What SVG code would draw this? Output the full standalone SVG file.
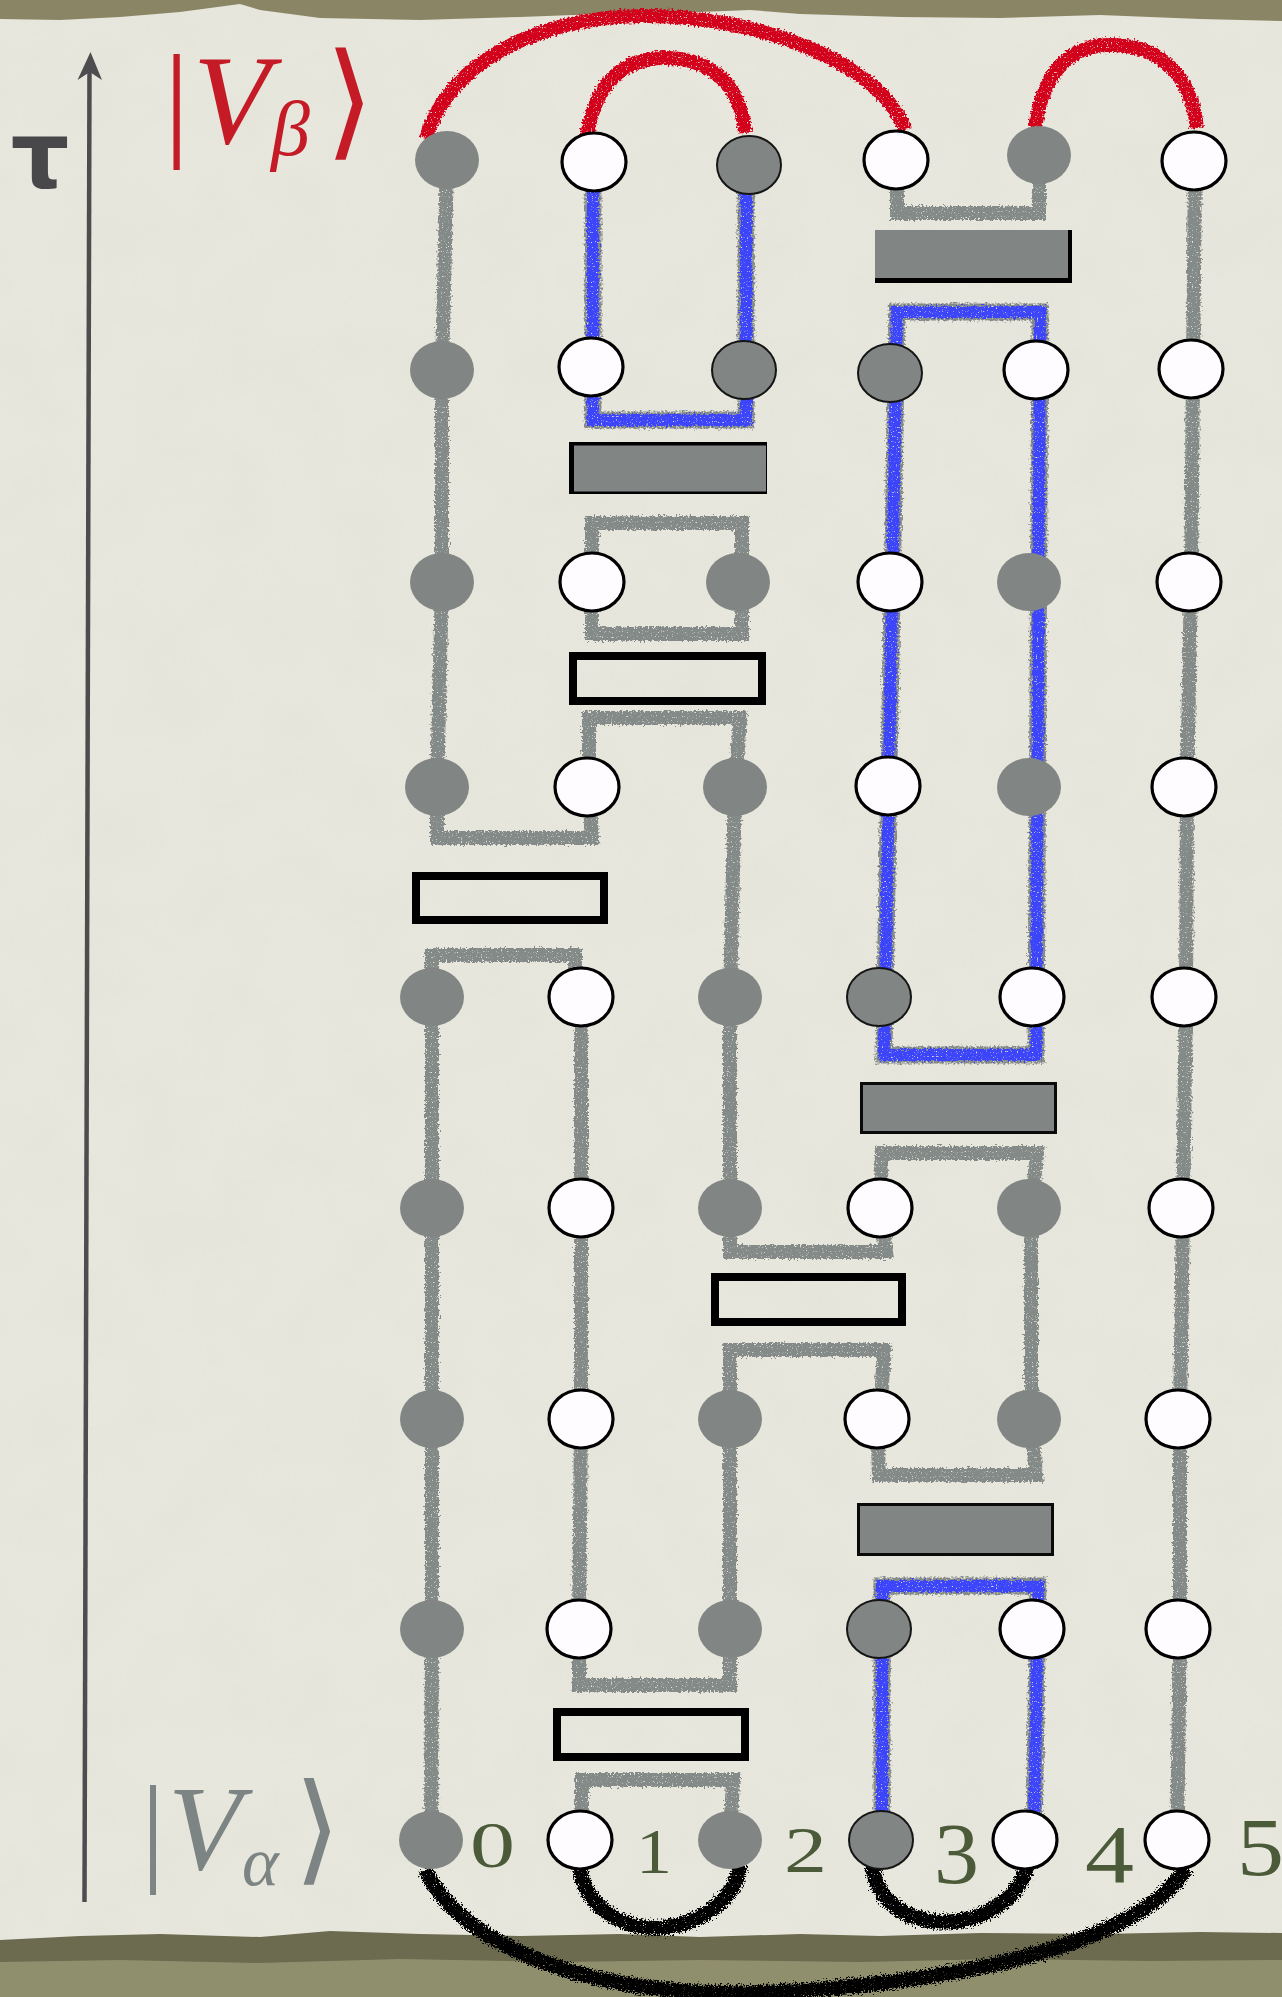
<svg xmlns="http://www.w3.org/2000/svg" width="1282" height="1997" viewBox="0 0 1282 1997">
<style>
.wire{fill:none;stroke:#838a87;stroke-width:14;stroke-linejoin:miter;stroke-linecap:butt}
.bunder{fill:none;stroke:#858b88;stroke-width:17;stroke-linejoin:miter}
.blue{fill:none;stroke:#3d45fb;stroke-width:12;stroke-linejoin:miter}
.red{fill:none;stroke:#d3061c;stroke-width:14;stroke-linecap:butt}
.blk{fill:none;stroke:#050505;stroke-width:15;stroke-linecap:butt}
.g{fill:#818684}
.gs{fill:#818684;stroke:#151515;stroke-width:2}
.w{fill:#fffcff;stroke:#000;stroke-width:3.2}
.gate{fill:#818684;stroke:#0a0a0a;stroke-width:3}
.open{fill:none;stroke:#000;stroke-width:8}
.serif{font-family:"Liberation Serif","Times New Roman",serif}
.dig{font-family:"Liberation Serif",serif;fill:#4b5a38}
</style>
<defs>
<filter id="pencil" filterUnits="userSpaceOnUse" x="0" y="0" width="1282" height="1997">
<feTurbulence type="fractalNoise" baseFrequency="0.5" numOctaves="2" seed="3" result="n"/>
<feDisplacementMap in="SourceGraphic" in2="n" scale="7" xChannelSelector="R" yChannelSelector="G" result="d"/>
<feTurbulence type="fractalNoise" baseFrequency="0.8" numOctaves="1" seed="11" result="n2"/>
<feColorMatrix in="n2" type="matrix" values="0 0 0 0 0  0 0 0 0 0  0 0 0 0 0  7 0 0 0 -1.6" result="m"/>
<feComposite in="d" in2="m" operator="in"/>
</filter>
<filter id="scribble" filterUnits="userSpaceOnUse" x="0" y="0" width="1282" height="1997">
<feTurbulence type="fractalNoise" baseFrequency="0.6" numOctaves="2" seed="9" result="n"/>
<feDisplacementMap in="SourceGraphic" in2="n" scale="11" xChannelSelector="R" yChannelSelector="G" result="d"/>
<feTurbulence type="fractalNoise" baseFrequency="0.9" numOctaves="1" seed="4" result="n2"/>
<feColorMatrix in="n2" type="matrix" values="0 0 0 0 0  0 0 0 0 0  0 0 0 0 0  8 0 0 0 -1.7" result="m"/>
<feComposite in="d" in2="m" operator="in"/>
</filter>
<filter id="paper" filterUnits="userSpaceOnUse" x="0" y="0" width="1282" height="1997">
<feTurbulence type="fractalNoise" baseFrequency="0.015" numOctaves="4" seed="5"/>
<feColorMatrix type="matrix" values="0 0 0 0 0.55  0 0 0 0 0.55  0 0 0 0 0.48  0 0 0 0.35 -0.1"/>
</filter>
</defs>

<!-- paper -->
<rect x="0" y="0" width="1282" height="1997" fill="#e8e7dd"/>
<rect x="0" y="0" width="1282" height="1997" filter="url(#paper)" opacity="0.35"/>
<path d="M0,0 H1282 V21 L1200,19 L1100,15 L1000,18 L900,17 L800,14 L750,10 L700,12 L600,14 L520,17 L420,20 L320,18 L260,10 L240,4 L180,12 L120,17 L60,20 L0,19 Z" fill="#8a8665"/>
<path d="M0,1940 L80,1936 L160,1934 L260,1937 L330,1931 L420,1934 L520,1936 L620,1934 L700,1937 L800,1934 L880,1936 L980,1933 L1100,1934 L1200,1932 L1282,1933 V1997 H0 Z" fill="#6c6b4f"/>
<path d="M0,1962 L120,1960 L260,1963 L400,1959 L560,1962 L700,1960 L860,1962 L1000,1959 L1150,1961 L1282,1960 V1997 H0 Z" fill="#908f6d"/>

<!-- time axis -->
<g id="axis">
<line x1="89.5" y1="66" x2="84.5" y2="1902" stroke="#4d4d50" stroke-width="4.5"/>
<path d="M90.5,52 L102,80 L89.8,72 L77.5,80 Z" fill="#4d4d50"/>
<text x="40" y="188" text-anchor="middle" font-family="DejaVu Sans" font-weight="bold" font-size="92" fill="#48484b">τ</text>
</g>

<!-- state labels -->
<g id="label-beta">
<text class="serif" y="143" font-size="126" fill="#c41b26"><tspan x="164">|</tspan><tspan x="193" font-style="italic">V</tspan><tspan x="271" y="155" font-size="78" font-style="italic">β</tspan><tspan x="325" y="143" font-family="DejaVu Serif, DejaVu Sans, serif">⟩</tspan></text>
</g>
<g id="label-alpha">
<text class="serif" y="1869" font-size="120" fill="#7c8583"><tspan x="141">|</tspan><tspan x="168" font-style="italic">V</tspan><tspan x="242" y="1885" font-size="70" font-style="italic">α</tspan><tspan x="294" y="1869" font-family="DejaVu Serif, DejaVu Sans, serif">⟩</tspan></text>
</g>

<!-- connectors -->
<g id="connectors">
<g filter="url(#pencil)">
<path class="wire" d="M447,160 L442,370 L442,582 L437,787 L437,838 L592,838 L589,787"/>
<path class="wire" d="M575,997 L575,955 L432,955 L432,1208 L432,1419 L432,1629 L431,1840"/>
<path class="wire" d="M581,997 L581,1208 L581,1419 L579,1629 L579,1685 L730,1685 L730,1629 L730,1419 L730,1350 L884,1350 L880,1419"/>
<path class="wire" d="M589,787 L589,718 L740,718 L735,787 L730,997 L730,1208 L730,1252 L886,1252 L880,1208 L882,1153 L1037,1153 L1031,1208 L1031,1419 L1036,1475 L879,1475 L877,1419"/>
<path class="wire" d="M592,523 L742,523 L742,634 L592,634 Z"/>
<path class="wire" d="M897,160 L897,213 L1039,213 L1039,155"/>
<path class="wire" d="M1195,161 L1193,369 L1191,582 L1187,787 L1186,997 L1183,1208 L1180,1419 L1180,1629 L1177,1840"/>
<path class="wire" d="M582,1840 L582,1780 L733,1780 L730,1840"/>
<path class="bunder" d="M593,162 L593,420 L746,420 L746,165"/>
<path class="bunder" d="M897,312 L1040,312 L1036,1055 L884,1055 Z"/>
<path class="bunder" d="M882,1840 L882,1586 L1038,1586 L1034,1840"/>
<path class="blue" d="M593,162 L593,420 L746,420 L746,165"/>
<path class="blue" d="M897,312 L1040,312 L1036,1055 L884,1055 Z"/>
<path class="blue" d="M882,1840 L882,1586 L1038,1586 L1034,1840"/>
<path class="red" d="M426,138 C450,60 540,18 640,16 C750,14 880,60 905,130"/>
<path class="red" d="M586,143 C595,70 635,58 665,58 C700,58 740,75 745,133"/>
<path class="red" d="M1035,128 C1045,60 1080,45 1111,45 C1150,45 1190,65 1197,128"/>
</g>
<g filter="url(#scribble)">
<path class="blk" d="M580,1868 C585,1905 620,1928 655,1928 C690,1928 735,1905 740,1865"/>
<path class="blk" d="M872,1865 C878,1905 910,1922 945,1922 C980,1922 1020,1900 1027,1865"/>
<path class="blk" d="M425,1870 C470,1960 620,1995 740,1993 C880,1991 1130,1960 1186,1868"/>
</g>
</g>

<!-- gates -->
<g id="gate-1"><rect x="875" y="230" width="197" height="53" fill="#000"/><rect x="875" y="230" width="193" height="48" fill="#818684"/></g>
<g id="gate-2"><rect x="569" y="442" width="198" height="52" fill="#000"/><rect x="574" y="445.5" width="192" height="46" fill="#818684"/></g>
<g id="gate-3"><rect x="573" y="656" width="189" height="45" class="open"/></g>
<g id="gate-4"><rect x="416" y="876" width="188" height="44" class="open"/></g>
<g id="gate-5"><rect x="861.5" y="1083.5" width="194" height="49" class="gate"/></g>
<g id="gate-6"><rect x="715" y="1277" width="187" height="45" class="open"/></g>
<g id="gate-7"><rect x="858.5" y="1504.5" width="194" height="50" class="gate"/></g>
<g id="gate-8"><rect x="557" y="1712" width="188" height="45" class="open"/></g>

<!-- nodes -->
<g id="nodes">
<g id="n0-0"><ellipse class="g" cx="447" cy="160" rx="32" ry="29"/></g>
<g id="n0-1"><ellipse class="w" cx="594" cy="162" rx="32" ry="29"/></g>
<g id="n0-2"><ellipse class="gs" cx="749" cy="165" rx="32" ry="29"/></g>
<g id="n0-3"><ellipse class="w" cx="896" cy="160" rx="32" ry="29"/></g>
<g id="n0-4"><ellipse class="g" cx="1039" cy="155" rx="32" ry="29"/></g>
<g id="n0-5"><ellipse class="w" cx="1194" cy="161" rx="32" ry="29"/></g>

<g id="n1-0"><ellipse class="g" cx="442" cy="370" rx="32" ry="29"/></g>
<g id="n1-1"><ellipse class="w" cx="591" cy="367" rx="32" ry="29"/></g>
<g id="n1-2"><ellipse class="gs" cx="744" cy="370" rx="32" ry="29"/></g>
<g id="n1-3"><ellipse class="gs" cx="890" cy="373" rx="32" ry="29"/></g>
<g id="n1-4"><ellipse class="w" cx="1036" cy="370" rx="32" ry="29"/></g>
<g id="n1-5"><ellipse class="w" cx="1191" cy="369" rx="32" ry="29"/></g>

<g id="n2-0"><ellipse class="g" cx="442" cy="582" rx="32" ry="29"/></g>
<g id="n2-1"><ellipse class="w" cx="592" cy="582" rx="32" ry="29"/></g>
<g id="n2-2"><ellipse class="g" cx="738" cy="582" rx="32" ry="29"/></g>
<g id="n2-3"><ellipse class="w" cx="890" cy="582" rx="32" ry="29"/></g>
<g id="n2-4"><ellipse class="g" cx="1029" cy="582" rx="32" ry="29"/></g>
<g id="n2-5"><ellipse class="w" cx="1189" cy="582" rx="32" ry="29"/></g>

<g id="n3-0"><ellipse class="g" cx="437" cy="787" rx="32" ry="29"/></g>
<g id="n3-1"><ellipse class="w" cx="587" cy="787" rx="32" ry="29"/></g>
<g id="n3-2"><ellipse class="g" cx="735" cy="787" rx="32" ry="29"/></g>
<g id="n3-3"><ellipse class="w" cx="888" cy="786" rx="32" ry="29"/></g>
<g id="n3-4"><ellipse class="g" cx="1029" cy="787" rx="32" ry="29"/></g>
<g id="n3-5"><ellipse class="w" cx="1184" cy="787" rx="32" ry="29"/></g>

<g id="n4-0"><ellipse class="g" cx="432" cy="997" rx="32" ry="29"/></g>
<g id="n4-1"><ellipse class="w" cx="581" cy="997" rx="32" ry="29"/></g>
<g id="n4-2"><ellipse class="g" cx="730" cy="997" rx="32" ry="29"/></g>
<g id="n4-3"><ellipse class="gs" cx="879" cy="997" rx="32" ry="29"/></g>
<g id="n4-4"><ellipse class="w" cx="1032" cy="997" rx="32" ry="29"/></g>
<g id="n4-5"><ellipse class="w" cx="1184" cy="997" rx="32" ry="29"/></g>

<g id="n5-0"><ellipse class="g" cx="432" cy="1208" rx="32" ry="29"/></g>
<g id="n5-1"><ellipse class="w" cx="581" cy="1208" rx="32" ry="29"/></g>
<g id="n5-2"><ellipse class="g" cx="730" cy="1208" rx="32" ry="29"/></g>
<g id="n5-3"><ellipse class="w" cx="880" cy="1208" rx="32" ry="29"/></g>
<g id="n5-4"><ellipse class="g" cx="1029" cy="1208" rx="32" ry="29"/></g>
<g id="n5-5"><ellipse class="w" cx="1181" cy="1208" rx="32" ry="29"/></g>

<g id="n6-0"><ellipse class="g" cx="432" cy="1419" rx="32" ry="29"/></g>
<g id="n6-1"><ellipse class="w" cx="581" cy="1419" rx="32" ry="29"/></g>
<g id="n6-2"><ellipse class="g" cx="730" cy="1419" rx="32" ry="29"/></g>
<g id="n6-3"><ellipse class="w" cx="877" cy="1419" rx="32" ry="29"/></g>
<g id="n6-4"><ellipse class="g" cx="1029" cy="1419" rx="32" ry="29"/></g>
<g id="n6-5"><ellipse class="w" cx="1178" cy="1419" rx="32" ry="29"/></g>

<g id="n7-0"><ellipse class="g" cx="432" cy="1629" rx="32" ry="29"/></g>
<g id="n7-1"><ellipse class="w" cx="579" cy="1629" rx="32" ry="29"/></g>
<g id="n7-2"><ellipse class="g" cx="730" cy="1629" rx="32" ry="29"/></g>
<g id="n7-3"><ellipse class="gs" cx="879" cy="1629" rx="32" ry="29"/></g>
<g id="n7-4"><ellipse class="w" cx="1032" cy="1629" rx="32" ry="29"/></g>
<g id="n7-5"><ellipse class="w" cx="1178" cy="1629" rx="32" ry="29"/></g>

<g id="n8-0"><ellipse class="g" cx="431" cy="1840" rx="32" ry="29"/></g>
<g id="n8-1"><ellipse class="w" cx="580" cy="1840" rx="32" ry="29"/></g>
<g id="n8-2"><ellipse class="g" cx="730" cy="1840" rx="32" ry="29"/></g>
<g id="n8-3"><ellipse class="gs" cx="881" cy="1840" rx="32" ry="29"/></g>
<g id="n8-4"><ellipse class="w" cx="1025" cy="1840" rx="32" ry="29"/></g>
<g id="n8-5"><ellipse class="w" cx="1177" cy="1840" rx="32" ry="29"/></g>
</g>

<!-- site indices -->
<g id="indices">
<text class="dig" x="470" y="1867" font-size="65" textLength="45" lengthAdjust="spacingAndGlyphs">0</text>
<text class="dig" x="636" y="1873" font-size="64" textLength="36" lengthAdjust="spacingAndGlyphs">1</text>
<text class="dig" x="784" y="1872" font-size="66" textLength="43" lengthAdjust="spacingAndGlyphs">2</text>
<text class="dig" x="934" y="1883" font-size="86" textLength="45" lengthAdjust="spacingAndGlyphs">3</text>
<text class="dig" x="1085" y="1882" font-size="82" textLength="49" lengthAdjust="spacingAndGlyphs">4</text>
<text class="dig" x="1237" y="1875" font-size="82" textLength="47" lengthAdjust="spacingAndGlyphs">5</text>
</g>
</svg>
